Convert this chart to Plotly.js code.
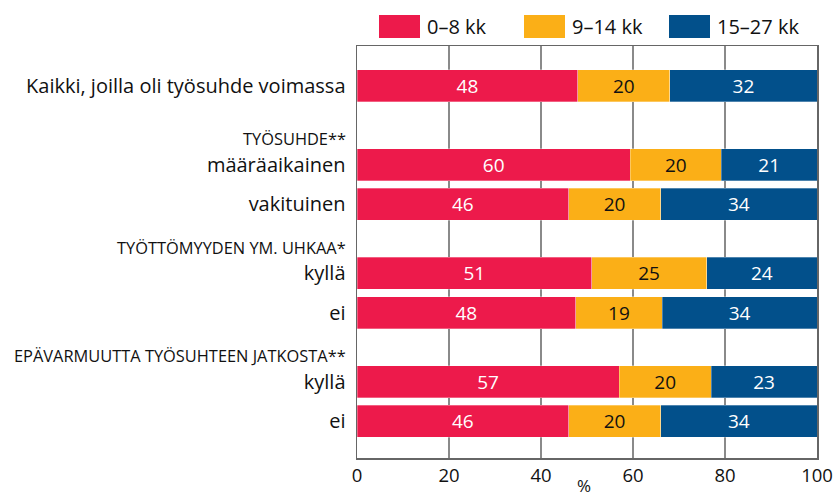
<!DOCTYPE html>
<html>
<head>
<meta charset="utf-8">
<script src="https://cdn.plot.ly/plotly-3.0.1.min.js"></script>
<style>html,body{margin:0;padding:0;background:#fff;}#chart{width:833px;height:497px;}</style>
</head>
<body>
<div id="chart"></div>
<script>
// ---- data ----
var groupHeaders = ["", "TYÖSUHDE**", "TYÖTTÖMYYDEN YM. UHKAA*", "EPÄVARMUUTTA TYÖSUHTEEN JATKOSTA**"];
var groupSizes = [1, 2, 2, 2];
var categories = ["Kaikki, joilla oli työsuhde voimassa", "määräaikainen", "vakituinen", "kyllä", "ei", "kyllä", "ei"];
var seriesNames = ["0–8 kk", "9–14 kk", "15–27 kk"];
var s0_8   = [48, 60, 46, 51, 48, 57, 46];
var s9_14  = [20, 20, 20, 25, 19, 20, 20];
var s15_27 = [32, 21, 34, 24, 34, 23, 34];
var xTicks = [0, 20, 40, 60, 80, 100];

// ---- layout / style ----
var colors = ["#ED1A4B", "#FBAF17", "#02508B"];
var textColors = ["#ffffff", "#111111", "#ffffff"];
var groupGap = [0, 1, 0.75, 0.75];   // extra row slots before each group
var headerOffset = 0.66;              // header sits this many slots above group's first bar
var FONT = "Open Sans, Noto Sans, sans-serif";
var W = 833, H = 497, L = 357, R = 16, T = 46, B = 39;
var pw = W - L - R, ph = H - T - B;
function px2x(p) { return (p - L) / pw; }
function px2y(p) { return (H - B - p) / ph; }

// row positions from group structure
var rowPos = [], headerPos = [];
var pos = 0;
for (var g = 0; g < groupSizes.length; g++) {
  pos += groupGap[g];
  headerPos.push(pos - headerOffset);
  for (var k = 0; k < groupSizes[g]; k++) { rowPos.push(pos); pos += 1; }
}

var seriesVals = [s0_8, s9_14, s15_27];
var traces = seriesVals.map(function (vals, i) {
  return {
    type: "bar", orientation: "h",
    name: seriesNames[i],
    x: vals, y: rowPos,
    width: 0.81,
    text: vals.map(String),
    textposition: "inside",
    insidetextanchor: "middle",
    textangle: 0,
    constraintext: "none",
    textfont: { family: FONT, size: 19, color: textColors[i] },
    marker: { color: colors[i], line: { color: "rgba(255,255,255,0.5)", width: 0.6 } },
    hoverinfo: "x+name",
    showlegend: false
  };
});

var annotations = [];
for (var g2 = 0; g2 < groupHeaders.length; g2++) {
  if (!groupHeaders[g2]) continue;
  annotations.push({
    text: groupHeaders[g2], xref: "paper", yref: "y", x: 0, y: headerPos[g2],
    xanchor: "right", yanchor: "middle", xshift: -9, showarrow: false,
    font: { family: FONT, size: 16.4, color: "#111" }
  });
}
// custom legend
var legendLeft = [379, 524, 669];
var swW = 41, swTop = 15, swBot = 38;
var shapes = [];
for (var i = 0; i < seriesNames.length; i++) {
  shapes.push({
    type: "rect", xref: "paper", yref: "paper",
    x0: px2x(legendLeft[i]), x1: px2x(legendLeft[i] + swW),
    y0: px2y(swBot), y1: px2y(swTop),
    fillcolor: colors[i], line: { width: 0 }
  });
  annotations.push({
    text: seriesNames[i], xref: "paper", yref: "paper",
    x: px2x(legendLeft[i] + swW + 5), y: px2y((swTop + swBot) / 2),
    xanchor: "left", yanchor: "middle", showarrow: false,
    font: { family: FONT, size: 20, color: "#111" }
  });
}
annotations.push({
  text: "%", xref: "paper", yref: "paper", x: 0.493, y: px2y(485),
  xanchor: "center", yanchor: "middle", showarrow: false,
  font: { family: FONT, size: 17, color: "#111" }
});

var layout = {
  width: W, height: H,
  margin: { l: L, r: R, t: T, b: B, pad: 0 },
  paper_bgcolor: "#fff", plot_bgcolor: "#fff",
  barmode: "stack", barnorm: "percent",
  font: { family: FONT, color: "#111" },
  xaxis: {
    range: [0, 100], autorange: false, tickvals: xTicks,
    showgrid: true, gridcolor: "#8a8a8a", gridwidth: 1.5,
    zeroline: false, showline: true, mirror: true, linecolor: "#666", linewidth: 1.5,
    ticks: "", ticklabeloverflow: "allow",
    tickfont: { family: FONT, size: 18.5, color: "#111" },
    fixedrange: true
  },
  yaxis: {
    range: [9.43, -1], autorange: false,
    tickvals: rowPos, ticktext: categories,
    showgrid: false, zeroline: false, showline: true, mirror: true, linecolor: "#666", linewidth: 1.5,
    ticks: "", ticklabelstandoff: 6,
    tickfont: { family: FONT, size: 20, color: "#111" },
    fixedrange: true
  },
  shapes: shapes,
  annotations: annotations
};

Plotly.newPlot("chart", traces, layout, { displayModeBar: false, staticPlot: true });
</script>
</body>
</html>
